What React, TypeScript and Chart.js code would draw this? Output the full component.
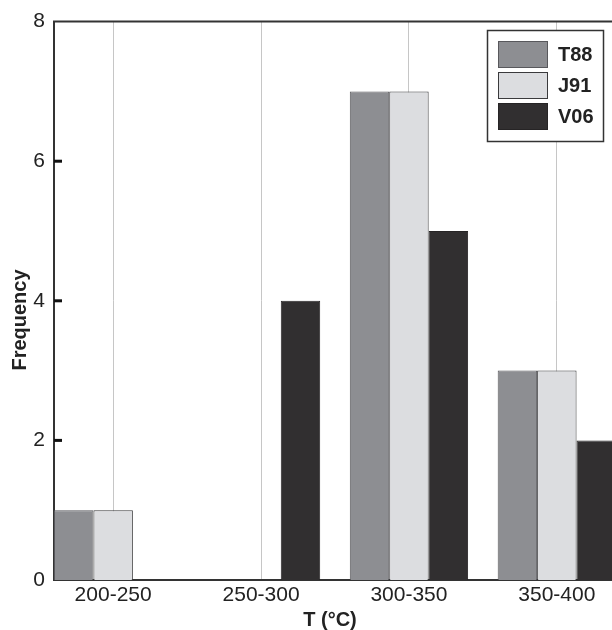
import React, { useEffect, useRef } from "react";
import { Chart, registerables } from "chart.js";

Chart.register(...registerables);

const categories = ["200-250", "250-300", "300-350", "350-400"];
const seriesNames = ["T88", "J91", "V06"];
const t88 = [1, 0, 7, 3];
const j91 = [1, 0, 7, 3];
const v06 = [0, 4, 5, 2];
const yTicks = [0, 2, 4, 6, 8];

const fills = ["#8d8e92", "#dcdde0", "#312f30"];
const borders = ["#58585c", "#3a3a3c", "#262425"];
const FONT = "'Liberation Sans', Arial, Helvetica, sans-serif";
const TEXT = "#222";

const framePlugin = {
  id: "frame",
  afterDraw(chart: any) {
    const { ctx, chartArea } = chart;
    const { left, right, top, bottom } = chartArea;
    const y = chart.scales.y;
    ctx.save();
    // top border
    ctx.strokeStyle = "#333";
    ctx.lineWidth = 2;
    ctx.beginPath();
    ctx.moveTo(left - 1, top);
    ctx.lineTo(right + 1, top);
    ctx.stroke();
    // inward ticks
    ctx.fillStyle = "#111";
    yTicks.forEach((v) => {
      if (v === 0 || v === 8) return;
      const py = y.getPixelForValue(v);
      ctx.fillRect(left, py - 1.5, 8, 3);
    });
    // axis titles
    ctx.fillStyle = TEXT;
    ctx.font = `bold 20px ${FONT}`;
    ctx.textAlign = "center";
    ctx.textBaseline = "middle";
    ctx.fillText("T (°C)", 330, 620);
    ctx.save();
    ctx.translate(20, 320);
    ctx.rotate(-Math.PI / 2);
    ctx.fillText("Frequency", 0, 0);
    ctx.restore();
    // legend
    const bx = 487.5, by = 30.5, bw = 116, bh = 111;
    ctx.fillStyle = "#fff";
    ctx.fillRect(bx, by, bw, bh);
    ctx.strokeStyle = "#333";
    ctx.lineWidth = 1.5;
    ctx.strokeRect(bx, by, bw, bh);
    seriesNames.forEach((name, i) => {
      const sy = 41 + i * 31;
      ctx.fillStyle = fills[i];
      ctx.fillRect(498, sy, 50, 27);
      ctx.strokeStyle = borders[i];
      ctx.lineWidth = 1;
      ctx.strokeRect(498.5, sy + 0.5, 49, 26);
      ctx.fillStyle = TEXT;
      ctx.font = `bold 20px ${FONT}`;
      ctx.textAlign = "left";
      ctx.textBaseline = "middle";
      ctx.fillText(name, 558, sy + 14);
    });
    ctx.restore();
  },
};

export default function App() {
  const ref = useRef<HTMLCanvasElement>(null);
  useEffect(() => {
    if (!ref.current) return;
    const chart = new Chart(ref.current, {
      type: "bar",
      data: {
        labels: categories,
        datasets: [t88, j91, v06].map((d, i) => ({
          label: seriesNames[i],
          data: d,
          backgroundColor: fills[i],
          borderColor: borders[i],
          borderWidth: 1,
          categoryPercentage: 0.8,
          barPercentage: 1.0,
        })),
      },
      options: {
        animation: false,
        responsive: false,
        devicePixelRatio: 1,
        layout: { padding: { left: 0, top: 20, right: 24, bottom: 0 } },
        plugins: { legend: { display: false }, tooltip: { enabled: false } },
        scales: {
          x: {
            type: "category",
            offset: true,
            afterBuildTicks: (s: any) => {
              s._startValue = -0.4;
              s._valueRange = categories.length - 0.2;
            },
            afterFit: (s: any) => {
              s.height = 50;
            },
            grid: { display: true, offset: false, color: "#c6c6c6", lineWidth: 1, drawTicks: false },
            border: { display: true, color: "#333", width: 2 },
            ticks: { color: TEXT, font: { family: FONT, size: 21 }, padding: 3, maxRotation: 0 },
          },
          y: {
            min: 0,
            max: 8,
            afterBuildTicks: (s: any) => {
              s.ticks = yTicks.map((v) => ({ value: v }));
            },
            afterFit: (s: any) => {
              s.width = 54;
            },
            grid: { display: false, drawTicks: false },
            border: { display: true, color: "#333", width: 2 },
            ticks: { color: TEXT, font: { family: FONT, size: 21 }, padding: 9 },
          },
        },
      },
      plugins: [framePlugin],
    });
    return () => chart.destroy();
  }, []);
  return (
    <div style={{ position: "fixed", left: 0, top: 0, width: 612, height: 630, overflow: "hidden", background: "#fff" }}>
      <canvas ref={ref} width={640} height={630} style={{ display: "block" }} />
    </div>
  );
}
